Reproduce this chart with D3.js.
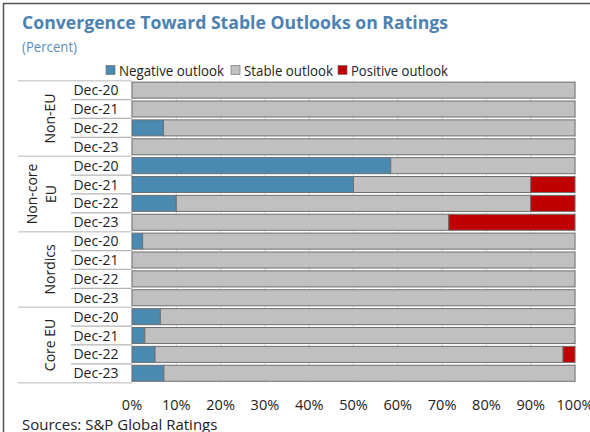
<!DOCTYPE html>
<html><head><meta charset="utf-8">
<script src="https://cdn.jsdelivr.net/npm/d3@7"></script>
<style>
html,body{margin:0;padding:0;background:#fff;}
svg{display:block;font-family:"Open Sans",sans-serif;}
</style></head>
<body>
<svg id="chart" width="590" height="432"></svg>
<script>
const groups = ["Non-EU", "Non-core EU", "Nordics", "Core EU"];
const periods = ["Dec-20", "Dec-21", "Dec-22", "Dec-23"];
const seriesNames = ["Negative outlook", "Stable outlook", "Positive outlook"];
const seriesColors = ["#4a8ab0", "#c0c0c0", "#c00000"];
// values in row order: group x period
const negative = [0, 0, 7.1, 0,   58.4, 50, 10, 0,   2.4, 0, 0, 0,   6.4, 2.9, 5.2, 7.2];
const positive = [0, 0, 0, 0,     0, 10, 10, 28.5,   0, 0, 0, 0,     0, 0, 2.7, 0];
const stable = negative.map((n, i) => 100 - n - positive[i]);
const xTicks = [0,10,20,30,40,50,60,70,80,90,100];

(function () {
const rows = [];
groups.forEach((g, gi) => periods.forEach((p, pi) => {
  const i = gi * periods.length + pi;
  rows.push({key: g + "|" + p, group: g, period: p, vals: [negative[i], stable[i], positive[i]]});
}));

const svg = d3.select("#chart");
const pLeft = 132, pRight = 575, pTop = 80.7, pBottom = 382.7;
const x = d3.scaleLinear().domain([0, 100]).range([pLeft, pRight]);
const y = d3.scaleBand().domain(rows.map(r => r.key)).range([pTop, pBottom]).paddingInner(0.15).paddingOuter(0.075);
const step = y.step();

function fit(sel, w) {
  const n = sel.node();
  if (n.getComputedTextLength() > w) sel.attr("textLength", w).attr("lengthAdjust", "spacingAndGlyphs");
  return sel;
}

// frame
svg.append("line").attr("x1", 3).attr("x2", 590).attr("y1", 3.5).attr("y2", 3.5).attr("stroke", "#555").attr("stroke-width", 1.5);
svg.append("line").attr("x1", 3.5).attr("x2", 3.5).attr("y1", 3).attr("y2", 432).attr("stroke", "#555").attr("stroke-width", 1.5);

// title
fit(svg.append("text").attr("x", 22).attr("y", 29).attr("font-size", 18.5).attr("font-weight", "bold").attr("fill", "#4c82b2")
  .text("Convergence Toward Stable Outlooks on Ratings"), 426);
fit(svg.append("text").attr("x", 22).attr("y", 52).attr("font-size", 14).attr("fill", "#5b8ec0").text("(Percent)"), 55);

// legend
const legendX = [106, 231, 338];
const legendW = [105, 89, 97];
seriesNames.forEach((s, i) => {
  svg.append("rect").attr("x", legendX[i]).attr("y", 65.5).attr("width", 9).attr("height", 9)
    .attr("fill", seriesColors[i]).attr("stroke", "#666").attr("stroke-width", 0.6);
  fit(svg.append("text").attr("x", legendX[i] + 13).attr("y", 75.5).attr("font-size", 15).attr("fill", "#222").text(s), legendW[i]);
});

// gridlines
svg.append("g").selectAll("line").data(xTicks).join("line")
  .attr("x1", d => x(d)).attr("x2", d => x(d)).attr("y1", pTop).attr("y2", pBottom)
  .attr("stroke", "#d9d9d9").attr("stroke-width", 1);

// bars
const barG = svg.append("g");
rows.forEach(r => {
  let acc = 0;
  r.vals.forEach((v, i) => {
    if (v > 0) {
      barG.append("rect").attr("x", x(acc)).attr("y", y(r.key)).attr("width", x(acc + v) - x(acc)).attr("height", y.bandwidth())
        .attr("fill", seriesColors[i]).attr("stroke", "#6f6f6f").attr("stroke-width", 1);
    }
    acc += v;
  });
});

// category axis lines
rows.forEach((r, idx) => {
  const yb = pTop + step * (idx + 1);
  const isGroupEnd = (idx + 1) % periods.length === 0;
  if (!isGroupEnd) {
    svg.append("line").attr("x1", 71).attr("x2", pLeft).attr("y1", yb).attr("y2", yb).attr("stroke", "#b5b5b5").attr("stroke-width", 1.2);
  }
});
const groupLines = d3.range(groups.length + 1).map(i => pTop + step * periods.length * i);
svg.append("g").selectAll("line").data(groupLines).join("line")
  .attr("x1", 18).attr("x2", pLeft).attr("y1", d => d).attr("y2", d => d).attr("stroke", "#d0d0d0").attr("stroke-width", 1.5);

// period labels
svg.append("g").selectAll("text").data(rows).join("text")
  .attr("x", 96).attr("y", d => y(d.key) + y.bandwidth() / 2 + 5).attr("text-anchor", "middle")
  .attr("font-size", 14).attr("fill", "#222").text(d => d.period);

// group labels
groups.forEach((g, gi) => {
  const cy = pTop + step * periods.length * (gi + 0.5);
  const lines = g === "Non-core EU" ? ["Non-core", "EU"] : [g];
  const xs = lines.length === 2 ? [32, 51] : [50];
  lines.forEach((ln, li) => {
    svg.append("text").attr("transform", `translate(${xs[li] + 5},${cy}) rotate(-90)`).attr("text-anchor", "middle")
      .attr("font-size", 14).attr("fill", "#222").text(ln);
  });
});

// x axis labels
svg.append("g").selectAll("text").data(xTicks).join("text")
  .attr("x", d => x(d)).attr("y", 410).attr("text-anchor", "middle").attr("font-size", 14.5).attr("fill", "#222").text(d => d + "%");

svg.append("text").attr("x", 22).attr("y", 430).attr("font-size", 15).attr("fill", "#222").text("Sources: S&P Global Ratings");
})();
</script>
</body></html>
